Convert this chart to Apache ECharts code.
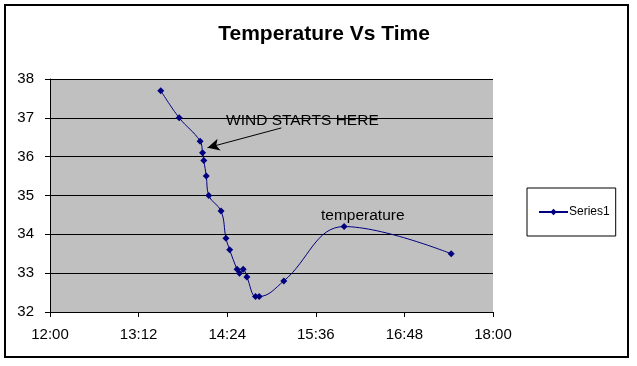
<!DOCTYPE html>
<html>
<head>
<meta charset="utf-8">
<script src="https://cdn.jsdelivr.net/npm/echarts@6/dist/echarts.min.js"></script>
<style>
html,body{margin:0;padding:0;background:#fff;}
#chart{width:637px;height:366px;}
</style>
</head>
<body>
<div id="chart"></div>
<script>
// Times in minutes since midnight
const times = [810, 825, 842, 844, 845, 847, 849, 859, 863, 866, 872, 874, 877, 880, 887, 890, 910, 959, 1046];
const temps = [37.7, 37.0, 36.4, 36.1, 35.9, 35.5, 35.0, 34.6, 33.9, 33.6, 33.1, 33.0, 33.1, 32.9, 32.4, 32.4, 32.8, 34.2, 33.5];
const seriesName = 'Series1';
const xTicks = ['12:00', '13:12', '14:24', '15:36', '16:48', '18:00'];
const arrowFrom = [908, 36.74];
const arrowTo = [848, 36.23];

function fmtTime(v) {
  const h = Math.floor(v / 60);
  const m = Math.round(v - h * 60);
  return h + ':' + (m < 10 ? '0' : '') + m;
}

const chart = echarts.init(document.getElementById('chart'), null, {renderer: 'canvas'});
const font = 'Liberation Sans, Arial, sans-serif';
chart.setOption({
  backgroundColor: '#ffffff',
  animation: false,
  title: {
    text: 'Temperature Vs Time',
    left: 319,
    top: 19,
    textAlign: 'center',
    textStyle: {fontFamily: font, fontSize: 21, fontWeight: 'bold', color: '#000'}
  },
  legend: {
    data: [seriesName],
    left: 527,
    top: 188,
    orient: 'vertical',
    borderColor: '#000',
    borderWidth: 1,
    padding: [18, 6, 18, 11],
    itemWidth: 29,
    itemHeight: 8,
    itemGap: 0,
    textStyle: {fontFamily: font, fontSize: 12, color: '#000', padding: [0, 0, 0, -4]}
  },
  grid: {
    left: 50, right: 144, top: 79, bottom: 54,
    show: true, backgroundColor: '#c0c0c0', borderWidth: 0
  },
  xAxis: {
    type: 'value',
    min: 720, max: 1080, interval: 72,
    axisLine: {show: true, lineStyle: {color: '#000', width: 1}},
    axisTick: {show: true, length: 5, lineStyle: {color: '#000'}},
    splitLine: {show: false},
    axisLabel: {
      fontFamily: font, fontSize: 15, color: '#000', margin: 15,
      formatter: function (v) { const i = Math.round((v - 720) / 72); return xTicks[i] !== undefined ? xTicks[i] : fmtTime(v); }
    }
  },
  yAxis: {
    type: 'value',
    min: 32, max: 38, interval: 1,
    axisLine: {show: true, lineStyle: {color: '#000', width: 1}},
    axisTick: {show: true, length: 5, lineStyle: {color: '#000'}},
    splitLine: {show: true, lineStyle: {color: '#000', width: 1}},
    axisLabel: {fontFamily: font, fontSize: 15, color: '#000', margin: 16}
  },
  series: [{
    name: seriesName,
    type: 'line',
    smooth: 0.4,
    data: times.map((t, i) => [t, temps[i]]),
    symbol: 'diamond',
    symbolSize: 7,
    itemStyle: {color: '#000080'},
    lineStyle: {color: '#000080', width: 1},
    markLine: {
      silent: true,
      symbol: ['none', 'arrow'],
      symbolSize: [9, 12],
      label: {show: false},
      lineStyle: {color: '#000', width: 1, type: 'solid'},
      data: [[{coord: arrowFrom}, {coord: arrowTo}]]
    }
  }],
  graphic: [
    {type: 'rect', shape: {x: 5, y: 5, width: 623, height: 352}, style: {fill: 'none', stroke: '#000', lineWidth: 2}, silent: true, z: 100},
    {type: 'text', x: 226, y: 121, style: {text: 'WIND STARTS HERE', fontFamily: font, fontSize: 15.5, fill: '#000', textVerticalAlign: 'middle'}, z: 100},
    {type: 'text', x: 321, y: 216, style: {text: 'temperature', fontFamily: font, fontSize: 15.5, fill: '#000', textVerticalAlign: 'middle'}, z: 100}
  ]
});
</script>
</body>
</html>
